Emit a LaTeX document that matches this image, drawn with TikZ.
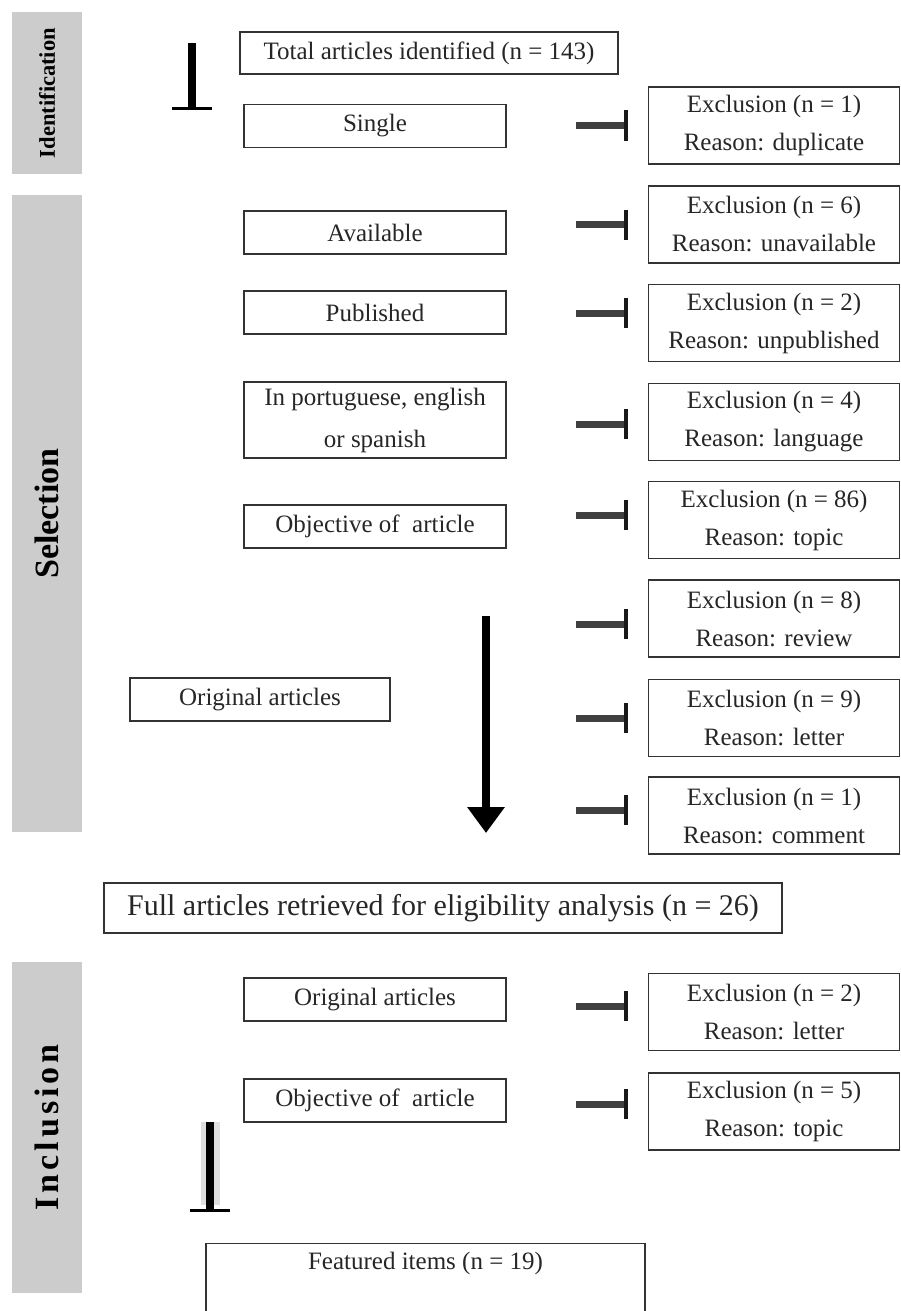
\documentclass[tikz,border=0pt]{standalone}
\usepackage{fontspec}
\setmainfont{Liberation Serif}
\newfontfamily\spacedfont[LetterSpace=12]{Liberation Serif}
\usetikzlibrary{arrows.meta}

\begin{document}
\begin{tikzpicture}[
    x=1pt, y=-1pt,
    stage/.style={fill=gray!40, rotate=90, minimum height=70pt, inner sep=0pt,
                  font=\bfseries\fontsize{34}{40}\selectfont},
    box/.style={draw=black!80, line width=1.3pt, minimum width=262pt,
                minimum height=43pt, inner sep=0pt, text=black!85,
                font=\fontsize{25}{30}\selectfont},
    excl/.style={box, minimum width=251pt, minimum height=77pt, align=center,
                 font=\fontsize{25}{38}\selectfont},
    cut/.style={line width=7pt, draw=black!75,
                -{Bar[width=30pt, line width=4pt, color=black!90]}, shorten >=20pt},
    down/.style={line width=8pt, -{Bar[width=40pt, line width=3pt]}},
  ]
  \useasboundingbox (0,0) rectangle (901,1311);

  % Stages
  \node[stage, minimum width=162pt, font=\bfseries\fontsize{22.5}{26}\selectfont] (ident) at (47,93) {Identification};
  \node[stage, minimum width=637pt] (sel) at (47,513.5) {Selection};
  \node[stage, minimum width=331pt, font=\bfseries\spacedfont\fontsize{34}{40}\selectfont] (incl) at (47,1127.5) {Inclusion};

  % Main column
  \node[box, minimum width=378pt, minimum height=42pt] (total) at (429,53) {Total articles identified (n = 143)};
  \node[box] (single) at (375,126) {Single};
  \node[box] (avail) at (375,232.5) {Available};
  \node[box] (publ) at (375,312.5) {Published};
  \node[box, minimum height=76pt, align=center, font=\fontsize{25}{42}\selectfont] (lang) at (375,420) {In portuguese, english\\or spanish};
  \node[box] (obj) at (375,526.5) {Objective of\ \ article};
  \node[box, minimum width=260pt] (orig) at (260,699.5) {Original articles};
  \node[box, minimum width=678pt, minimum height=50pt, font=\fontsize{30}{36}\selectfont] (full) at (443,908) {Full articles retrieved for eligibility analysis (n = 26)};
  \node[box] (orig2) at (375,999.5) {Original articles};
  \node[box] (obj2) at (375,1100.5) {Objective of\ \ article};
  \node[box, minimum width=439pt, text height=26pt, text depth=120pt, anchor=north] (feat) at (425.5,1243) {Featured items (n = 19)};

  % Exclusions
  \node[excl] (e1) at (774,125.5) {Exclusion (n = 1)\\Reason: duplicate};
  \node[excl] (e2) at (774,224.5) {Exclusion (n = 6)\\Reason: unavailable};
  \node[excl] (e3) at (774,323) {Exclusion (n = 2)\\Reason: unpublished};
  \node[excl] (e4) at (774,422) {Exclusion (n = 4)\\Reason: language};
  \node[excl] (e5) at (774,520) {Exclusion (n = 86)\\Reason: topic};
  \node[excl] (e6) at (774,618.5) {Exclusion (n = 8)\\Reason: review};
  \node[excl] (e7) at (774,718) {Exclusion (n = 9)\\Reason: letter};
  \node[excl] (e8) at (774,815.5) {Exclusion (n = 1)\\Reason: comment};
  \node[excl] (e9) at (774,1012) {Exclusion (n = 2)\\Reason: letter};
  \node[excl] (e10) at (774,1111.5) {Exclusion (n = 5)\\Reason: topic};

  % Cuts
  \draw[cut] ([xshift=-72pt]e1.west) -- (e1.west);
  \draw[cut] ([xshift=-72pt]e2.west) -- (e2.west);
  \draw[cut] ([xshift=-72pt, yshift=10pt]e3.west) -- ([yshift=10pt]e3.west);
  \draw[cut] ([xshift=-72pt, yshift=-2pt]e4.west) -- ([yshift=-2pt]e4.west);
  \draw[cut] ([xshift=-72pt, yshift=5pt]e5.west) -- ([yshift=5pt]e5.west);
  \draw[cut] ([xshift=-72pt, yshift=-5.5pt]e6.west) -- ([yshift=-5.5pt]e6.west);
  \draw[cut] ([xshift=-72pt]e7.west) -- (e7.west);
  \draw[cut] ([xshift=-72pt, yshift=5.5pt]e8.west) -- ([yshift=5.5pt]e8.west);
  \draw[cut] ([xshift=-72pt, yshift=6pt]e9.west) -- ([yshift=6pt]e9.west);
  \draw[cut] ([xshift=-72pt, yshift=7.5pt]e10.west) -- ([yshift=7.5pt]e10.west);

  % Flow arrows
  \coordinate (idtop) at (192,43);
  \coordinate (idend) at (192,110);
  \draw[down] (idtop) -- (idend);
  \coordinate (seltop) at (486,616);
  \coordinate (selend) at (486,833);
  \draw[line width=8pt, -{Triangle[width=36pt, length=26pt]}] (seltop) -- (selend);
  \coordinate (inctop) at (210,1122);
  \coordinate (incend) at (210,1212);
  \draw[line width=19pt, gray!25, shorten >=7pt] (inctop) -- (incend);
  \draw[down] (inctop) -- (incend);
\end{tikzpicture}
\end{document}
